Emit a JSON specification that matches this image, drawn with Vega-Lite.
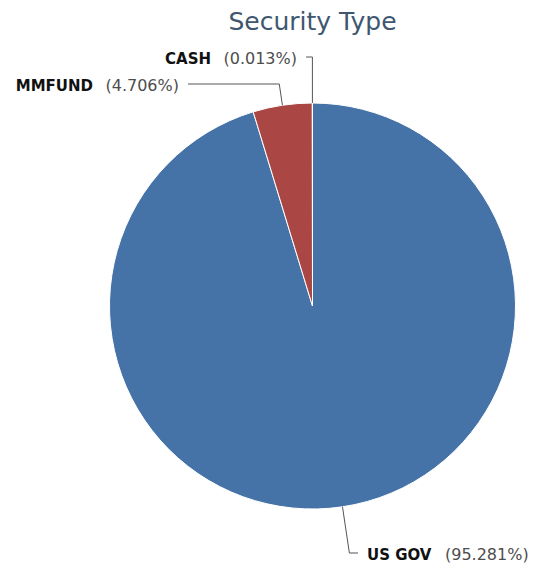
{
  "$schema": "https://vega.github.io/schema/vega-lite/v6.json",
  "width": 440,
  "height": 520,
  "autosize": "none",
  "padding": {"left": 92.5, "top": 46, "right": 0, "bottom": 0},
  "background": "white",
  "config": {"view": {"stroke": null}},
  "title": {
    "text": "Security Type",
    "font": "DejaVu Sans",
    "fontSize": 25,
    "fontWeight": "normal",
    "color": "#3E576F",
    "anchor": "middle",
    "baseline": "alphabetic",
    "offset": 17,
    "dy": 26
  },
  "data": {
    "values": [
      {"type": "US GOV", "percent": 95.281, "order": 1},
      {"type": "MMFUND", "percent": 4.706, "order": 2},
      {"type": "CASH", "percent": 0.013, "order": 3}
    ]
  },
  "transform": [
    {"window": [{"op": "sum", "field": "percent", "as": "cum"}], "sort": [{"field": "order"}], "frame": [null, 0]},
    {"calculate": "(datum.cum - datum.percent / 2) / 100 * 2 * PI", "as": "a"},
    {"calculate": "sin(datum.a) < 0", "as": "left"},
    {"calculate": "datum.type === 'CASH' ? 249 : datum.type === 'MMFUND' ? 222 : -247", "as": "ly"},
    {"calculate": "datum.type === 'CASH' ? -6.5 : datum.type === 'MMFUND' ? -124.5 : 45.5", "as": "cx"},
    {"calculate": "203 * sin(datum.a)", "as": "ex"},
    {"calculate": "203 * cos(datum.a)", "as": "ey"},
    {"calculate": "datum.ly * tan(datum.a)", "as": "bx"},
    {"calculate": "datum.left ? datum.cx - 9 : datum.cx + 9", "as": "lx"},
    {"calculate": "datum.left ? datum.lx - 86 : datum.lx", "as": "nameX"},
    {"calculate": "datum.left ? datum.lx : datum.lx + 78", "as": "pctX"},
    {"calculate": "'(' + format(datum.percent, '.3f') + '%)'", "as": "pct"}
  ],
  "layer": [
    {
      "mark": {"type": "arc", "outerRadius": 203, "stroke": "white", "strokeWidth": 1},
      "encoding": {
        "theta": {"field": "percent", "type": "quantitative", "stack": true},
        "order": {"field": "order", "type": "quantitative"},
        "color": {
          "field": "type",
          "type": "nominal",
          "scale": {"domain": ["US GOV", "MMFUND", "CASH"], "range": ["#4572A7", "#AA4643", "#89A54E"]},
          "legend": null
        }
      }
    },
    {
      "mark": {"type": "rule", "color": "#555555", "strokeWidth": 1},
      "encoding": {
        "x": {"field": "ex", "type": "quantitative", "scale": {"domain": [-220, 220], "nice": false, "zero": false}, "axis": null},
        "y": {"field": "ey", "type": "quantitative", "scale": {"domain": [-260, 260], "nice": false, "zero": false}, "axis": null},
        "x2": {"field": "bx"},
        "y2": {"field": "ly"}
      }
    },
    {
      "mark": {"type": "rule", "color": "#555555", "strokeWidth": 1},
      "encoding": {
        "x": {"field": "bx", "type": "quantitative"},
        "y": {"field": "ly", "type": "quantitative"},
        "x2": {"field": "cx"},
        "y2": {"field": "ly"}
      }
    },
    {
      "transform": [{"filter": "datum.left"}],
      "mark": {"type": "text", "align": "right", "baseline": "alphabetic", "dy": 7, "font": "DejaVu Sans", "fontSize": 15, "fontWeight": "bold", "color": "#111111"},
      "encoding": {
        "x": {"field": "nameX", "type": "quantitative"},
        "y": {"field": "ly", "type": "quantitative"},
        "text": {"field": "type"}
      }
    },
    {
      "transform": [{"filter": "datum.left"}],
      "mark": {"type": "text", "align": "right", "baseline": "alphabetic", "dy": 7, "font": "DejaVu Sans", "fontSize": 16, "color": "#4d4d4d"},
      "encoding": {
        "x": {"field": "pctX", "type": "quantitative"},
        "y": {"field": "ly", "type": "quantitative"},
        "text": {"field": "pct"}
      }
    },
    {
      "transform": [{"filter": "!datum.left"}],
      "mark": {"type": "text", "align": "left", "baseline": "alphabetic", "dy": 7, "font": "DejaVu Sans", "fontSize": 15, "fontWeight": "bold", "color": "#111111"},
      "encoding": {
        "x": {"field": "nameX", "type": "quantitative"},
        "y": {"field": "ly", "type": "quantitative"},
        "text": {"field": "type"}
      }
    },
    {
      "transform": [{"filter": "!datum.left"}],
      "mark": {"type": "text", "align": "left", "baseline": "alphabetic", "dy": 7, "font": "DejaVu Sans", "fontSize": 16, "color": "#4d4d4d"},
      "encoding": {
        "x": {"field": "pctX", "type": "quantitative"},
        "y": {"field": "ly", "type": "quantitative"},
        "text": {"field": "pct"}
      }
    }
  ]
}
